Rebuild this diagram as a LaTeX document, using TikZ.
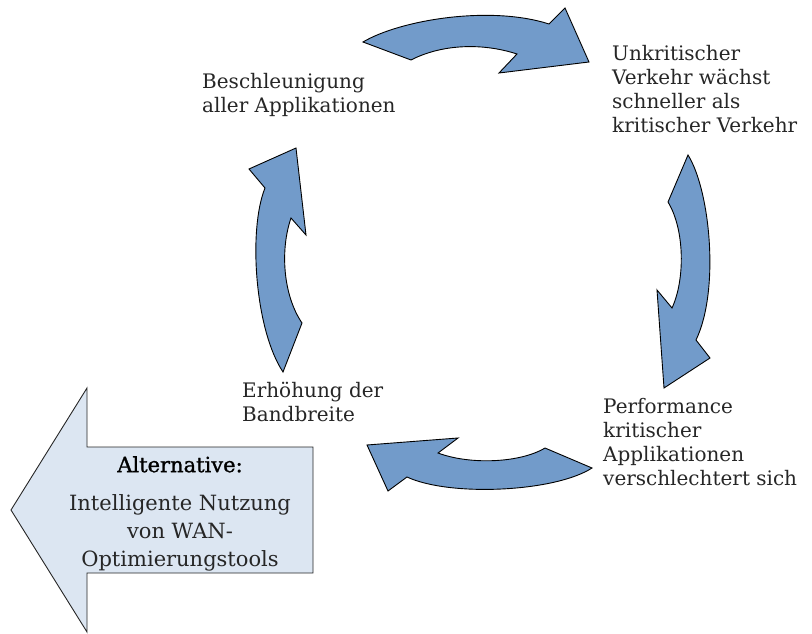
\documentclass[tikz,border=0pt]{standalone}
\usepackage{fontspec}
\setmainfont{DejaVu Serif}
\begin{document}
\begin{tikzpicture}[x=1pt,y=-1pt,
  cyclearrow/.style={draw=black,line width=0.9pt,fill={rgb,255:red,114;green,155;blue,202},line join=miter},
  altarrow/.style={draw=black!85,line width=0.9pt,fill={rgb,255:red,220;green,230;blue,242}},
  lbl/.style={anchor=north west,inner sep=0pt,align=left,text=black!85,font=\fontsize{20}{24}\selectfont},
  alttext/.style={anchor=north,inner sep=0pt,align=center,text=black!85,font=\fontsize{21}{28}\selectfont}]
\useasboundingbox (0,0) rectangle (812,634);
% top arrow
\draw[cyclearrow] (363,42) .. controls (400,20) and (490,5) .. (549,24)
  -- (565,8) -- (589,62) -- (499,73) -- (517,54)
  .. controls (480,42) and (440,45) .. (411,60) -- cycle;
% right arrow
\draw[cyclearrow] (688,155) .. controls (710,190) and (720,290) .. (696,340)
  -- (710,358) -- (664,388) -- (657,290) -- (672,308)
  .. controls (685,280) and (685,230) .. (668,202) -- cycle;
% bottom arrow
\draw[cyclearrow] (592,468) .. controls (555,492) and (450,497) .. (407,477)
  -- (388,491) -- (367,445) -- (458,438) -- (438,453)
  .. controls (470,465) and (520,463) .. (545,448) -- cycle;
% left arrow
\draw[cyclearrow] (283,372) .. controls (255,330) and (248,230) .. (265,188)
  -- (249,169) -- (296,148) -- (306,235) -- (291,218)
  .. controls (280,250) and (283,295) .. (302,323) -- cycle;
% big alternative arrow
\draw[altarrow] (11,510) -- (87,388) -- (87,447) -- (313,447) -- (313,573)
  -- (87,573) -- (87,632) -- cycle;
% labels
\node[lbl] (beschl) at (202,73) {Beschleunigung\\aller Applikationen};
\node[lbl] (unkrit) at (612,45) {Unkritischer\\Verkehr wächst\\schneller als\\kritischer Verkehr};
\node[lbl] (perf) at (603,398) {Performance\\kritischer\\Applikationen\\verschlechtert sich};
\node[lbl] (erh) at (242,382) {Erhöhung der\\Bandbreite};
\node[alttext] (alt) at (180,456) {{\color{black}\addfontfeatures{FakeBold=1.2}Alternative:}\\[10pt]Intelligente Nutzung\\von WAN-\\Optimierungstools};
\end{tikzpicture}
\end{document}
